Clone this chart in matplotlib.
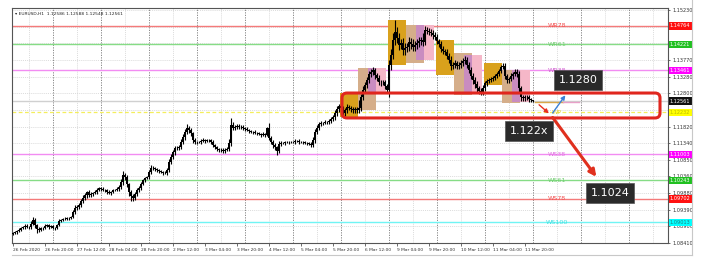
import numpy as np
import matplotlib.pyplot as plt
from matplotlib.patches import Rectangle, FancyBboxPatch
from matplotlib.lines import Line2D

plt.rcParams['font.family'] = ['DejaVu Sans']

SYMBOL = 'EURUSD,H1'
YEAR = '2020'
DAYS = ['26 Feb', '27 Feb', '28 Feb', '2 Mar', '3 Mar', '4 Mar', '5 Mar',
        '6 Mar', '9 Mar', '10 Mar', '11 Mar', '12 Mar', '13 Mar', '16 Mar']
FIRST_HOUR = 4
FIRST_OPEN = 1.0868

# hourly closes, one row per trading day
CLOSES = [
    1.0870, 1.0873, 1.0876, 1.0879, 1.0885, 1.0888, 1.0891, 1.0888, 1.0888, 1.0897,
    1.0908, 1.0894, 1.0882, 1.0879, 1.0885, 1.0885, 1.0891, 1.0894, 1.0888, 1.0891,
    1.0885, 1.0885, 1.0894, 1.0905, 1.0908, 1.0911, 1.0911, 1.0914, 1.0914, 1.0917, 1.0932, 1.0943,
    1.0946, 1.0952, 1.0964, 1.0973, 1.0981, 1.0990, 1.0981, 1.0984, 1.0987, 1.0990, 1.0996, 1.1002,
    1.0999, 1.0996, 1.0996, 1.0990, 1.0987, 1.0990, 1.0996, 1.0996, 1.0999, 1.1005, 1.1019, 1.1040,
    1.1034, 1.1014, 1.0990, 1.0978, 1.0973, 1.0984, 1.0996, 1.1002, 1.1014, 1.1025, 1.1031, 1.1034,
    1.1049, 1.1060, 1.1060, 1.1058, 1.1055, 1.1052, 1.1049, 1.1046, 1.1046, 1.1055, 1.1078, 1.1093,
    1.1107, 1.1119, 1.1119, 1.1122, 1.1137, 1.1151, 1.1166, 1.1178, 1.1172, 1.1163, 1.1142, 1.1137,
    1.1137, 1.1137, 1.1140, 1.1142, 1.1140, 1.1142, 1.1142, 1.1137, 1.1128, 1.1122, 1.1116, 1.1113,
    1.1113, 1.1110, 1.1113, 1.1116, 1.1134, 1.1186, 1.1178, 1.1180, 1.1183, 1.1180, 1.1180, 1.1178,
    1.1175, 1.1172, 1.1169, 1.1166, 1.1166, 1.1163, 1.1163, 1.1160, 1.1157, 1.1160, 1.1157, 1.1178,
    1.1148, 1.1137, 1.1128, 1.1122, 1.1110, 1.1131, 1.1134, 1.1134, 1.1137, 1.1137, 1.1137, 1.1137,
    1.1137, 1.1140, 1.1140, 1.1137, 1.1137, 1.1137, 1.1134, 1.1134, 1.1131, 1.1128, 1.1142, 1.1166,
    1.1178, 1.1189, 1.1192, 1.1192, 1.1195, 1.1195, 1.1198, 1.1204, 1.1210, 1.1221, 1.1233, 1.1242,
    1.1236, 1.1221, 1.1230, 1.1239, 1.1236, 1.1233, 1.1230, 1.1233, 1.1230, 1.1236, 1.1268, 1.1289,
    1.1303, 1.1318, 1.1336, 1.1342, 1.1347, 1.1333, 1.1324, 1.1312, 1.1312, 1.1312, 1.1301, 1.1289,
    1.1362, 1.1391, 1.1435, 1.1459, 1.1441, 1.1421, 1.1426, 1.1406, 1.1412, 1.1415, 1.1429, 1.1424,
    1.1415, 1.1421, 1.1426, 1.1432, 1.1435, 1.1429, 1.1464, 1.1462, 1.1459, 1.1456, 1.1450, 1.1444,
    1.1432, 1.1424, 1.1409, 1.1403, 1.1400, 1.1388, 1.1377, 1.1359, 1.1362, 1.1368, 1.1359, 1.1362,
    1.1368, 1.1374, 1.1377, 1.1362, 1.1347, 1.1330, 1.1318, 1.1306, 1.1295, 1.1286, 1.1283, 1.1295,
    1.1309, 1.1315, 1.1318, 1.1321, 1.1324, 1.1330, 1.1336, 1.1344, 1.1356, 1.1359, 1.1330, 1.1318,
    1.1321, 1.1330, 1.1336, 1.1342, 1.1336, 1.1295, 1.1268, 1.1265, 1.1268, 1.1268, 1.1262, 1.12586,
    1.12561,
]
# wick lengths above / below the body, in pips
UP_PIPS = [
    3, 4, 3, 5, 4, 3, 5, 6, 4, 8, 10, 6, 4, 5, 3, 4, 5, 4, 3, 4,
    3, 4, 3, 6, 4, 3, 5, 4, 3, 4, 6, 8, 5, 6, 7, 8, 5, 4, 6, 5, 4, 6, 5, 4,
    4, 5, 3, 4, 5, 4, 3, 4, 5, 6, 9, 12, 6, 5, 4, 6, 5, 7, 5, 6, 5, 4, 4, 3,
    6, 8, 5, 4, 3, 4, 3, 4, 5, 6, 8, 9, 7, 6, 5, 7, 8, 9, 10, 12, 6, 5, 4, 5,
    4, 3, 4, 5, 4, 3, 4, 4, 5, 4, 3, 4, 5, 6, 5, 6, 12, 20, 8, 7, 6, 5, 6, 5,
    4, 5, 4, 3, 4, 5, 4, 3, 4, 5, 4, 4, 14, 6, 5, 5, 4, 8, 5, 4, 3, 4, 3, 4,
    3, 4, 3, 4, 3, 4, 3, 4, 4, 5, 8, 9, 7, 6, 5, 4, 5, 4, 5, 6, 7, 8, 9, 7,
    8, 6, 7, 8, 6, 5, 6, 5, 6, 25, 10, 12, 9, 10, 9, 8, 10, 7, 6, 8, 6, 5, 7, 6,
    15, 18, 20, 35, 15, 14, 12, 16, 13, 12, 14, 12, 13, 12, 11, 12, 10, 20, 12, 10, 9, 8, 9, 8,
    8, 7, 9, 8, 7, 9, 8, 10, 9, 8, 7, 8, 9, 8, 10, 9, 8, 9, 10, 9, 8, 7, 8, 9,
    7, 6, 5, 6, 5, 6, 5, 6, 7, 10, 9, 7, 6, 8, 7, 9, 8, 9, 7, 6, 5, 6, 5, 3,
    0.2,
]
DN_PIPS = [
    4, 3, 5, 4, 3, 4, 5, 4, 6, 5, 4, 8, 12, 6, 4, 5, 3, 4, 5, 3,
    4, 5, 3, 4, 3, 4, 3, 4, 5, 3, 4, 5, 6, 5, 6, 7, 6, 8, 5, 4, 5, 4, 5, 4,
    5, 4, 5, 6, 4, 5, 4, 3, 4, 5, 6, 7, 9, 10, 12, 15, 8, 6, 5, 6, 5, 4, 5, 4,
    5, 6, 4, 5, 6, 5, 4, 5, 4, 5, 6, 7, 6, 7, 6, 5, 6, 7, 8, 6, 8, 9, 8, 6,
    5, 4, 5, 4, 5, 4, 5, 6, 5, 6, 5, 6, 5, 6, 5, 4, 6, 8, 7, 6, 5, 6, 5, 6,
    5, 4, 5, 4, 5, 4, 5, 4, 5, 4, 5, 4, 6, 7, 8, 9, 12, 6, 5, 4, 5, 4, 5, 4,
    4, 5, 4, 5, 4, 5, 4, 5, 4, 5, 6, 7, 6, 5, 6, 5, 4, 5, 6, 7, 6, 8, 7, 9,
    8, 12, 9, 8, 7, 8, 9, 7, 8, 7, 8, 9, 10, 9, 8, 10, 9, 12, 10, 9, 10, 8, 9, 10,
    20, 15, 12, 14, 15, 16, 13, 14, 15, 12, 13, 14, 12, 13, 12, 11, 12, 10, 9, 10, 9, 10, 11, 10,
    9, 10, 9, 10, 8, 9, 10, 12, 9, 8, 9, 10, 8, 9, 8, 10, 9, 10, 11, 10, 12, 10, 9, 8,
    8, 7, 6, 7, 6, 5, 6, 5, 6, 7, 8, 9, 8, 7, 8, 7, 8, 12, 10, 9, 8, 9, 8, 4,
    1.3,
]

PRICE_TICKS = [1.08410, 1.08900, 1.09390, 1.09880, 1.10360, 1.10850, 1.11340, 1.11820,
               1.12310, 1.12800, 1.13280, 1.13770, 1.14250, 1.14740, 1.15230]

LEVEL_NAMES = ['WR78', 'WR61', 'WR38', 'WP', 'WS38', 'WS61', 'WS78', 'WS100']
LEVEL_PRICES = [1.14764, 1.14221, 1.13461, 1.12232, 1.11003, 1.10243, 1.09702, 1.09013]

# session boxes (asia / london / new york) per day
SESSION_DAYS = ['6 Mar', '9 Mar', '10 Mar', '11 Mar']
ASIA_LOW = [1.1210, 1.1362, 1.1333, 1.1303]
ASIA_HIGH = [1.1280, 1.1494, 1.1435, 1.1368]
LONDON_LOW = [1.1230, 1.1368, 1.1274, 1.1251]
LONDON_HIGH = [1.1353, 1.1479, 1.1397, 1.1347]
NY_LOW = [1.1283, 1.1377, 1.1283, 1.1254]
NY_HIGH = [1.1353, 1.1479, 1.1391, 1.1347]

ZONE = (1.1207, 1.1280)
PIVOT_GUESS = 1.1215
TARGET_UP = 1.1280
TARGET_DOWN = 1.1024

# ---- style
LEVEL_LINE = ['#f47a7a', '#86dc86', '#f28cf2', '#f4ee5c', '#f28cf2', '#86dc86', '#f47a7a', '#70f4f4']
LEVEL_TAG = ['#ff1010', '#20c020', '#ff00ff', '#ffff00', '#ff00ff', '#20c020', '#ff1010', '#00ffff']
LEVEL_TEXT = ['#f05050', '#70cc70', '#d060d0', '#e0d040', '#e070e0', '#70cc70', '#f05050', '#40e0e0']
SESS_COL = {'asia': '#d9a11c', 'london': '#d5ae8a', 'ny': '#f5b7c8', 'mix': '#c98cc0'}
SESS_HOURS = {'asia': (0, 9), 'london': (9, 18), 'ny': (14, 23)}


def day_start(day):
    return DAYS.index(day) * 24 - FIRST_HOUR


def main():
    fig = plt.figure(figsize=(7.08, 2.71), dpi=100)
    ax = fig.add_axes([12 / 708, 28 / 271, 656 / 708, 235 / 271])
    ax.set_xlim(-0.5, 327.5)
    ax.set_ylim(1.08410, 1.15289)

    # grid
    for p in PRICE_TICKS:
        ax.axhline(p, color='#cfcfcf', lw=0.5, ls=(0, (1.5, 1.5)), zorder=0)
    for k in range(0, 16):
        ax.axvline(24 * k - FIRST_HOUR, color='#777777', lw=0.6, ls=(0, (1.5, 1.5)), zorder=0)
        ax.axvline(24 * k + 12 - FIRST_HOUR, color='#cfcfcf', lw=0.5, ls=(0, (1.5, 1.5)), zorder=0)

    # pivot levels
    for name, p, lc, tc in zip(LEVEL_NAMES, LEVEL_PRICES, LEVEL_LINE, LEVEL_TEXT):
        if name == 'WP':
            ax.axhline(p, color=lc, lw=0.9, ls=(0, (3, 2)), zorder=1)
        else:
            ax.axhline(p, color=lc, lw=1.0, zorder=1)
        ax.text(272, p, name, color=tc, fontsize=4.6, ha='center', va='center', zorder=2)
    ax.axhline(CLOSES[-1], color='#d0d0d0', lw=1.0, zorder=1)

    # session boxes
    for i, d in enumerate(SESSION_DAYS):
        s0 = day_start(d)
        for key, lo, hi in [('asia', ASIA_LOW[i], ASIA_HIGH[i]),
                            ('london', LONDON_LOW[i], LONDON_HIGH[i]),
                            ('ny', NY_LOW[i], NY_HIGH[i])]:
            h0, h1 = SESS_HOURS[key]
            ax.add_patch(Rectangle((s0 + h0 - 0.5, lo), h1 - h0, hi - lo,
                                   facecolor=SESS_COL[key], edgecolor='none', zorder=2))
        lo = max(LONDON_LOW[i], NY_LOW[i])
        hi = min(LONDON_HIGH[i], NY_HIGH[i])
        h0, h1 = SESS_HOURS['ny'][0], SESS_HOURS['london'][1]
        ax.add_patch(Rectangle((s0 + h0 - 0.5, lo), h1 - h0, hi - lo,
                               facecolor=SESS_COL['mix'], edgecolor='none', zorder=2))

    # candles
    closes = np.array(CLOSES)
    opens = np.concatenate([[FIRST_OPEN], closes[:-1]])
    highs = np.maximum(opens, closes) + np.array(UP_PIPS) * 1e-4
    lows = np.minimum(opens, closes) - np.array(DN_PIPS) * 1e-4
    x = np.arange(len(closes))
    ax.vlines(x, lows, highs, color='black', lw=0.8, zorder=4)
    body_lo = np.minimum(opens, closes)
    body_h = np.maximum(np.abs(closes - opens), 0.00004)
    ax.bar(x, body_h, bottom=body_lo, width=1.0, color='black', lw=0, zorder=4)

    n = len(closes)
    ax.plot([n, n + 14], [closes[-1] - 0.0002] * 2, color='#d9a84a', lw=1.0, zorder=3)
    ax.plot([n + 14, n + 22], [closes[-1] - 0.0002] * 2, color='#e8a0c8', lw=1.0, zorder=3)

    # red zone
    zx0, zx1 = 164.5, 323.5
    ax.add_patch(FancyBboxPatch((zx0, ZONE[0]), zx1 - zx0, ZONE[1] - ZONE[0],
                                boxstyle='round,pad=0,rounding_size=2.5',
                                mutation_aspect=0.000585,
                                facecolor='none', edgecolor='#e0261e', lw=2.2, zorder=6))

    # arrows
    ax.annotate('', xy=(269, PIVOT_GUESS), xytext=(262, 1.1251),
                arrowprops=dict(arrowstyle='-|>', color='#e8301f', lw=1.0,
                                mutation_scale=6), zorder=7)
    ax.annotate('', xy=(277, TARGET_UP), xytext=(269, PIVOT_GUESS),
                arrowprops=dict(arrowstyle='-|>', color='#3a80d6', lw=1.0,
                                mutation_scale=6), zorder=7)
    ax.annotate('', xy=(292.5, TARGET_DOWN + 0.0004), xytext=(269, PIVOT_GUESS),
                arrowprops=dict(arrowstyle='-|>', color='#e0301e', lw=2.2,
                                mutation_scale=10), zorder=7)

    # price call-outs
    box = dict(boxstyle='square,pad=0.45', facecolor='#2a2a2a', edgecolor='#555555', lw=0.5)
    ax.text(282.5, 1.1318, '%.4f' % TARGET_UP, color='white', fontsize=8,
            ha='center', va='center', bbox=box, zorder=8)
    ax.text(258, 1.1169, '1.122x', color='white', fontsize=8,
            ha='center', va='center', bbox=box, zorder=8)
    ax.text(298.5, 1.0988, '%.4f' % TARGET_DOWN, color='white', fontsize=8,
            ha='center', va='center', bbox=box, zorder=8)

    # axes
    for s in ax.spines.values():
        s.set_color('#555555')
        s.set_linewidth(0.8)
    ax.yaxis.tick_right()
    ax.set_yticks(PRICE_TICKS)
    # labels that sit under a coloured level tag are hidden, as on the terminal
    ylabels = []
    for p in PRICE_TICKS:
        covered = any(abs(p - q) < 0.0009 for q in LEVEL_PRICES)
        ylabels.append('' if covered else '%.5f' % p)
    ax.set_yticklabels(ylabels)
    ax.tick_params(axis='y', labelsize=3.6, length=1.5, width=0.5, pad=1.5, colors='#333333')

    xt = list(range(0, 257, 16))
    labels = []
    for b in xt:
        d, h = divmod(b + FIRST_HOUR, 24)
        labels.append('%s %s' % (DAYS[d], YEAR) if b == 0 else '%s %02d:00' % (DAYS[d], h))
    ax.set_xticks(xt)
    ax.set_xticklabels(labels)
    ax.tick_params(axis='x', labelsize=3.2, length=2, width=0.5, pad=1.5, colors='#333333')
    for t in ax.get_xticklabels():
        t.set_ha('left')

    # level tags on the price scale
    for p, c in zip(LEVEL_PRICES, LEVEL_TAG):
        tc = '#bbbb00' if c == '#ffff00' else ('#208080' if c == '#00ffff' else 'white')
        ax.annotate('%.5f' % p, xy=(1.003, p), xycoords=('axes fraction', 'data'),
                    fontsize=3.6, color=tc, va='center', ha='left', annotation_clip=False,
                    bbox=dict(boxstyle='square,pad=0.25', facecolor=c, edgecolor='none'), zorder=9)
    ax.annotate('%.5f' % CLOSES[-1], xy=(1.003, CLOSES[-1]), xycoords=('axes fraction', 'data'),
                fontsize=3.6, color='white', va='center', ha='left', annotation_clip=False,
                bbox=dict(boxstyle='square,pad=0.25', facecolor='#111111', edgecolor='none'), zorder=9)

    header = '\u25be %s  %.5f %.5f %.5f %.5f' % (SYMBOL, opens[-1], highs[-1], lows[-1], closes[-1])
    ax.text(0.004, 0.985, header, transform=ax.transAxes, fontsize=3.2, color='#222222',
            ha='left', va='top', zorder=9)

    fig.add_artist(Line2D([12 / 708, 692 / 708], [1 - 255 / 271] * 2, color='#c8c8c8', lw=0.8))
    fig.add_artist(Line2D([692 / 708] * 2, [1 - 255 / 271, 1], color='#c8c8c8', lw=0.8))

    plt.savefig('out.png', dpi=100)


if __name__ == '__main__':
    main()
